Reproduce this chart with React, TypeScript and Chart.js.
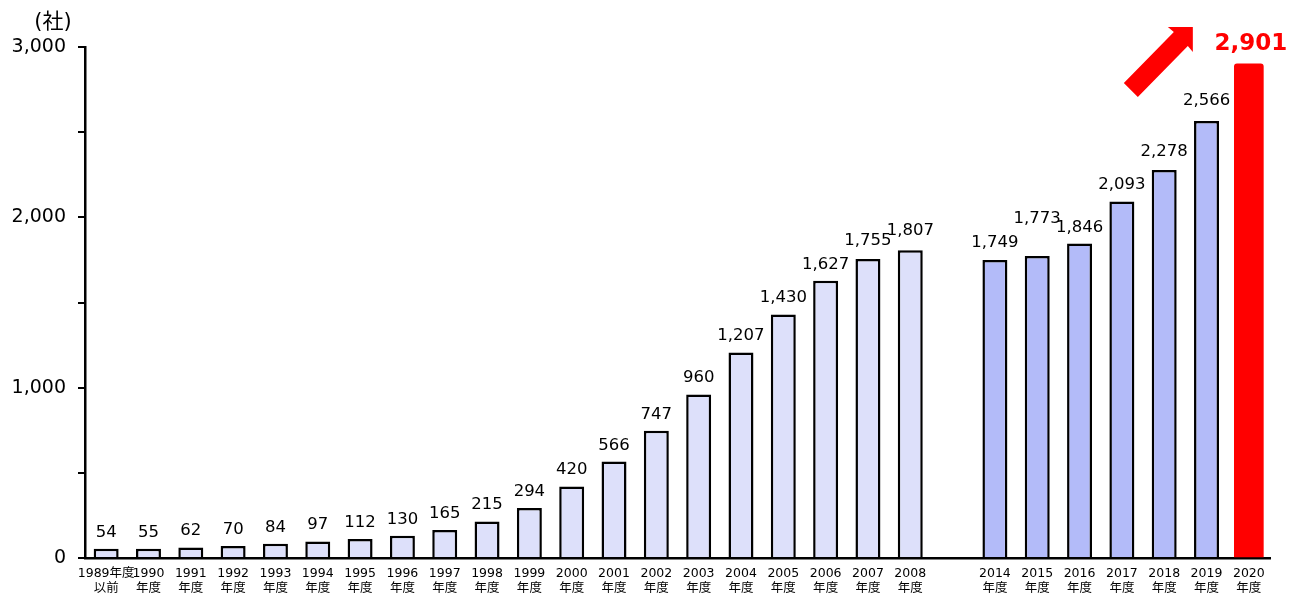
import { useEffect, useRef } from "react";
import { Chart, registerables } from "chart.js";

Chart.register(...registerables);

// 年度ラベル（2段）
const tickLabels: string[][] = [
  ["1989年度", "以前"],
  ["1990", "年度"], ["1991", "年度"], ["1992", "年度"], ["1993", "年度"],
  ["1994", "年度"], ["1995", "年度"], ["1996", "年度"], ["1997", "年度"],
  ["1998", "年度"], ["1999", "年度"], ["2000", "年度"], ["2001", "年度"],
  ["2002", "年度"], ["2003", "年度"], ["2004", "年度"], ["2005", "年度"],
  ["2006", "年度"], ["2007", "年度"], ["2008", "年度"],
  [""],
  ["2014", "年度"], ["2015", "年度"], ["2016", "年度"], ["2017", "年度"],
  ["2018", "年度"], ["2019", "年度"], ["2020", "年度"],
];

const earlyCounts = [
  54, 55, 62, 70, 84, 97, 112, 130, 165, 215, 294, 420, 566, 747, 960, 1207,
  1430, 1627, 1755, 1807,
];
const recentCounts = [1749, 1773, 1846, 2093, 2278, 2566];
const latestCount = 2901;

const yTicks = [0, 1000, 2000, 3000];

// label nudges (px) where the original lifted a value label
const labelLift: Record<string, number> = {
  "2007": 2,
  "2008": 3,
  "2014": 1,
  "2015": 21,
  "2018": 2,
  "2019": 4,
};

const FONT = "'DejaVu Sans', 'Noto Sans CJK JP', sans-serif";

const counts: (number | null)[] = [
  ...earlyCounts,
  null,
  ...recentCounts,
  null,
];
const latest: (number | null)[] = counts.map(() => null);
latest[latest.length - 1] = latestCount;

const labelPlugin = {
  id: "valueLabels",
  afterDatasetsDraw(chart: any) {
    const ctx = chart.ctx;
    ctx.save();
    ctx.textAlign = "center";
    ctx.textBaseline = "alphabetic";
    chart.data.datasets.forEach((ds: any, di: number) => {
      const meta = chart.getDatasetMeta(di);
      meta.data.forEach((el: any, i: number) => {
        const v = ds.data[i];
        if (v == null) return;
        const year = tickLabels[i][0];
        if (di === 1) {
          ctx.font = `bold 23px ${FONT}`;
          ctx.fillStyle = "#ff0000";
          ctx.fillText(v.toLocaleString("en-US"), el.x + 2, el.y - 14);
        } else {
          ctx.font = `16.5px ${FONT}`;
          ctx.fillStyle = "#000";
          const lift = labelLift[year] || 0;
          ctx.fillText(v.toLocaleString("en-US"), el.x, el.y - 12 - lift);
        }
      });
    });
    ctx.restore();
  },
};

const decorPlugin = {
  id: "decor",
  afterDraw(chart: any) {
    const ctx = chart.ctx;
    const area = chart.chartArea;
    ctx.save();
    // unit
    ctx.font = `21px ${FONT}`;
    ctx.fillStyle = "#000";
    ctx.textAlign = "center";
    ctx.textBaseline = "middle";
    ctx.fillText("(社)", area.left - 32, 23);

    // arrow next to the latest bar
    const meta = chart.getDatasetMeta(1);
    const bar = meta.data[meta.data.length - 1];
    if (bar) {
      const tx = bar.x - 56;
      const ty = area.top - 20;
      const head = 12; // half diagonal of head base
      const w = 7;
      const bx = tx - head;
      const by = ty + head;
      const tailX = tx - 62;
      const tailY = ty + 63;
      ctx.fillStyle = "#ff0000";
      ctx.beginPath();
      ctx.moveTo(tx, ty);
      ctx.lineTo(tx - 2 * head - 1, ty);
      ctx.lineTo(bx - w, by - w);
      ctx.lineTo(tailX - w, tailY - w);
      ctx.lineTo(tailX + w, tailY + w);
      ctx.lineTo(bx + w, by + w);
      ctx.lineTo(tx, ty + 2 * head + 1);
      ctx.closePath();
      ctx.fill();
    }
    ctx.restore();
  },
};

export default function App() {
  const canvasRef = useRef<HTMLCanvasElement>(null);

  useEffect(() => {
    const ctx = canvasRef.current?.getContext("2d");
    if (!ctx) return;
    const chart = new Chart(ctx, {
      type: "bar",
      data: {
        labels: tickLabels,
        datasets: [
          {
            data: counts,
            backgroundColor: (c: any) =>
              c.dataIndex < earlyCounts.length ? "#dde0fa" : "#b3bbf9",
            borderColor: "#000",
            borderWidth: 2.5,
            grouped: false,
            barPercentage: 0.59,
            categoryPercentage: 1,
          },
          {
            data: latest,
            backgroundColor: "#ff0000",
            borderWidth: 0,
            borderRadius: 3,
            borderSkipped: "bottom",
            grouped: false,
            barThickness: 29,
          },
        ],
      } as any,
      options: {
        animation: false,
        responsive: true,
        maintainAspectRatio: false,
        layout: { padding: { top: 47, right: 43, left: 0, bottom: 0 } },
        plugins: {
          legend: { display: false },
          tooltip: { enabled: false },
        },
        scales: {
          x: {
            grid: { display: false, drawTicks: false },
            border: { display: true, color: "#000", width: 2.5 },
            ticks: {
              autoSkip: false,
              maxRotation: 0,
              minRotation: 0,
              padding: 8,
              color: "#000",
              font: { family: FONT, size: 12.5, lineHeight: 1.2 },
            },
            afterFit: (s: any) => {
              s.height = 48;
            },
          },
          y: {
            min: 0,
            max: 3000,
            grid: {
              drawOnChartArea: false,
              drawTicks: true,
              tickLength: 7,
              color: "#000",
              lineWidth: 2,
            },
            border: { display: true, color: "#000", width: 2.5 },
            ticks: {
              stepSize: 500,
              padding: 12,
              color: "#000",
              font: { family: FONT, size: 19 },
              callback: (v: any) =>
                yTicks.includes(Number(v)) ? Number(v).toLocaleString("en-US") : "",
            },
            afterFit: (s: any) => {
              s.width = 85;
            },
          },
        },
      },
      plugins: [labelPlugin, decorPlugin],
    });
    return () => chart.destroy();
  }, []);

  return (
    <div
      style={{
        position: "absolute",
        left: 0,
        top: 0,
        width: 1313,
        height: 606,
        background: "#fff",
      }}
    >
      <canvas ref={canvasRef} />
    </div>
  );
}
